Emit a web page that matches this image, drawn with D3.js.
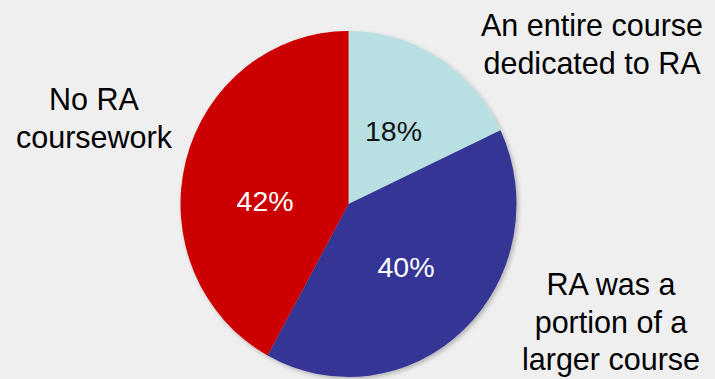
<!DOCTYPE html>
<html lang="en">
<head>
  <meta charset="utf-8">
  <title>RA coursework pie</title>
  <script src="https://cdnjs.cloudflare.com/ajax/libs/d3/7.8.5/d3.min.js"></script>
  <style>
    html, body { margin: 0; padding: 0; background: #efefef; }
    svg { display: block; }
    text { font-family: "Liberation Sans", Arial, sans-serif; }
  </style>
</head>
<body>
  <script>
    // data
    var categories = ["An entire course dedicated to RA", "RA was a portion of a larger course", "No RA coursework"];
    var values = [18, 40, 42];
    var colors = ["#b8dfe2", "#363696", "#cc0000"];
    var labelColors = ["#111111", "#ffffff", "#ffffff"];
    var legendLines = [
      ["An entire course", "dedicated to RA"],
      ["RA was a", "portion of a", "larger course"],
      ["No RA", "coursework"]
    ];

    var width = 715, height = 379;
    var cx = 348.5, cy = 204;
    var radius = 168;
    var yStretch = 173 / 168;

    var svg = d3.select("body").append("svg")
      .attr("width", width)
      .attr("height", height);

    var defs = svg.append("defs");
    var f = defs.append("filter").attr("id", "shadow")
      .attr("x", "-10%").attr("y", "-10%").attr("width", "120%").attr("height", "120%");
    f.append("feDropShadow")
      .attr("dx", 2).attr("dy", 2).attr("stdDeviation", 2)
      .attr("flood-color", "#000").attr("flood-opacity", 0.25);

    var pie = d3.pie().sort(null).value(function (d) { return d; });
    var arcs = pie(values);
    var arc = d3.arc().innerRadius(0).outerRadius(radius);
    var labelArc = d3.arc().innerRadius(84).outerRadius(84);

    var g = svg.append("g")
      .attr("transform", "translate(" + cx + "," + cy + ") scale(1," + yStretch + ")");

    g.append("g").attr("filter", "url(#shadow)")
      .selectAll("path")
      .data(arcs)
      .enter()
      .append("path")
      .attr("d", arc)
      .attr("fill", function (d, i) { return colors[i]; });

    // small nudge for the red slice label, as in the original
    var nudge = [[0, 0], [0, 0], [-2, 18]];

    svg.append("g").selectAll("text")
      .data(arcs)
      .enter()
      .append("text")
      .attr("x", function (d, i) { return cx + labelArc.centroid(d)[0] + nudge[i][0]; })
      .attr("y", function (d, i) { return cy + labelArc.centroid(d)[1] * yStretch + nudge[i][1]; })
      .attr("text-anchor", "middle")
      .attr("dy", "0.36em")
      .attr("font-size", 28.5)
      .attr("fill", function (d, i) { return labelColors[i]; })
      .text(function (d) { return d.value + "%"; });

    // category labels outside the pie
    var legendPos = [[592, 36], [611, 295], [94, 110]];
    var lineH = 37.5;

    legendLines.forEach(function (lines, i) {
      var t = svg.append("text")
        .attr("text-anchor", "middle")
        .attr("font-size", 30.5)
        .attr("fill", "#000");
      lines.forEach(function (line, j) {
        t.append("tspan")
          .attr("x", legendPos[i][0])
          .attr("y", legendPos[i][1] + j * lineH)
          .text(line);
      });
    });
  </script>
</body>
</html>
